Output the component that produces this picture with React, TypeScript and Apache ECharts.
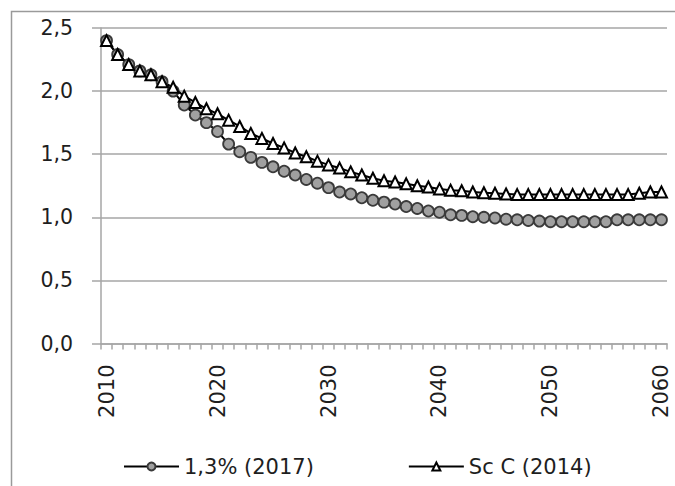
import React, { useEffect, useRef } from "react";
import * as echarts from "echarts";

const years: string[] = [];
for (let y = 2010; y <= 2060; y++) years.push(String(y));

const seriesNames = ["1,3% (2017)", "Sc C (2014)"];

const circleValues = [
  2.40, 2.29, 2.21, 2.16, 2.13, 2.075, 2.00, 1.89, 1.81, 1.75,
  1.68, 1.58, 1.52, 1.475, 1.435, 1.40, 1.365, 1.335, 1.30, 1.27,
  1.235, 1.20, 1.185, 1.155, 1.135, 1.12, 1.105, 1.085, 1.07, 1.05,
  1.04, 1.02, 1.015, 1.005, 1.0, 0.995, 0.985, 0.98, 0.975, 0.97,
  0.965, 0.965, 0.965, 0.965, 0.965, 0.965, 0.98, 0.98, 0.98, 0.98,
  0.98,
];

const triangleValues = [
  2.40, 2.29, 2.21, 2.16, 2.13, 2.075, 2.03, 1.96, 1.91, 1.86,
  1.82, 1.77, 1.72, 1.665, 1.625, 1.585, 1.55, 1.51, 1.48, 1.445,
  1.415, 1.39, 1.36, 1.335, 1.31, 1.29, 1.28, 1.265, 1.25, 1.24,
  1.225, 1.215, 1.21, 1.20, 1.195, 1.19, 1.185, 1.18, 1.18, 1.18,
  1.18, 1.18, 1.18, 1.18, 1.18, 1.18, 1.18, 1.18, 1.19, 1.20,
  1.20,
];

const yTicks = { min: 0, max: 2.5, interval: 0.5 };

export default function App() {
  const ref = useRef<HTMLDivElement>(null);
  useEffect(() => {
    if (!ref.current) return;
    const chart = echarts.init(ref.current, null, { renderer: "svg" });
    const font = "DejaVu Sans";
    const textColor = "#1e1e1e";
    const gray = "#a6a6a6";
    chart.setOption({
      animation: false,
      backgroundColor: "#ffffff",
      graphic: [
        {
          type: "rect",
          shape: { x: 11.5, y: 11.5, width: 700, height: 500 },
          style: { fill: "none", stroke: "#9a9a9a", lineWidth: 1.5 },
          silent: true,
        },
      ],
      grid: { left: 101, top: 28, right: 8, bottom: 142.5, containLabel: false },
      legend: {
        left: 118,
        top: 451,
        itemWidth: 55,
        itemHeight: 10,
        itemGap: 94,
        textStyle: { fontFamily: font, fontSize: 21, color: textColor },
        data: seriesNames,
      },
      xAxis: {
        type: "category",
        data: years,
        boundaryGap: true,
        axisLine: { show: true, lineStyle: { color: gray, width: 1.5 } },
        axisTick: { show: true, interval: 0, length: 6, lineStyle: { color: gray, width: 1.5 } },
        axisLabel: {
          interval: (index: number) => index % 10 === 0,
          rotate: 90,
          margin: 21,
          fontFamily: font,
          fontSize: 21,
          color: textColor,
        },
        splitLine: { show: false },
      },
      yAxis: {
        type: "value",
        min: yTicks.min,
        max: yTicks.max,
        interval: yTicks.interval,
        axisLine: { show: true, lineStyle: { color: gray, width: 1.5 } },
        axisTick: { show: true, length: 9, lineStyle: { color: gray, width: 1.5 } },
        axisLabel: {
          margin: 28,
          fontFamily: font,
          fontSize: 20.5,
          color: textColor,
          formatter: (v: number) => v.toFixed(1).replace(".", ","),
        },
        splitLine: { show: true, lineStyle: { color: gray, width: 1.5 } },
      },
      series: [
        {
          name: seriesNames[0],
          type: "line",
          data: circleValues,
          symbol: "circle",
          symbolSize: 11,
          showAllSymbol: true,
          lineStyle: { color: "#000", width: 2 },
          itemStyle: { color: "#a0a0a0", borderColor: "#3a3a3a", borderWidth: 1.8 },
        },
        {
          name: seriesNames[1],
          type: "line",
          data: triangleValues,
          symbol: "triangle",
          symbolSize: 11,
          showAllSymbol: true,
          lineStyle: { color: "#000", width: 2 },
          itemStyle: { color: "#ffffff", borderColor: "#000", borderWidth: 2 },
        },
      ],
    });
    return () => chart.dispose();
  }, []);
  return (
    <div
      ref={ref}
      style={{ position: "fixed", left: 0, top: 0, width: 675, height: 486 }}
    />
  );
}
